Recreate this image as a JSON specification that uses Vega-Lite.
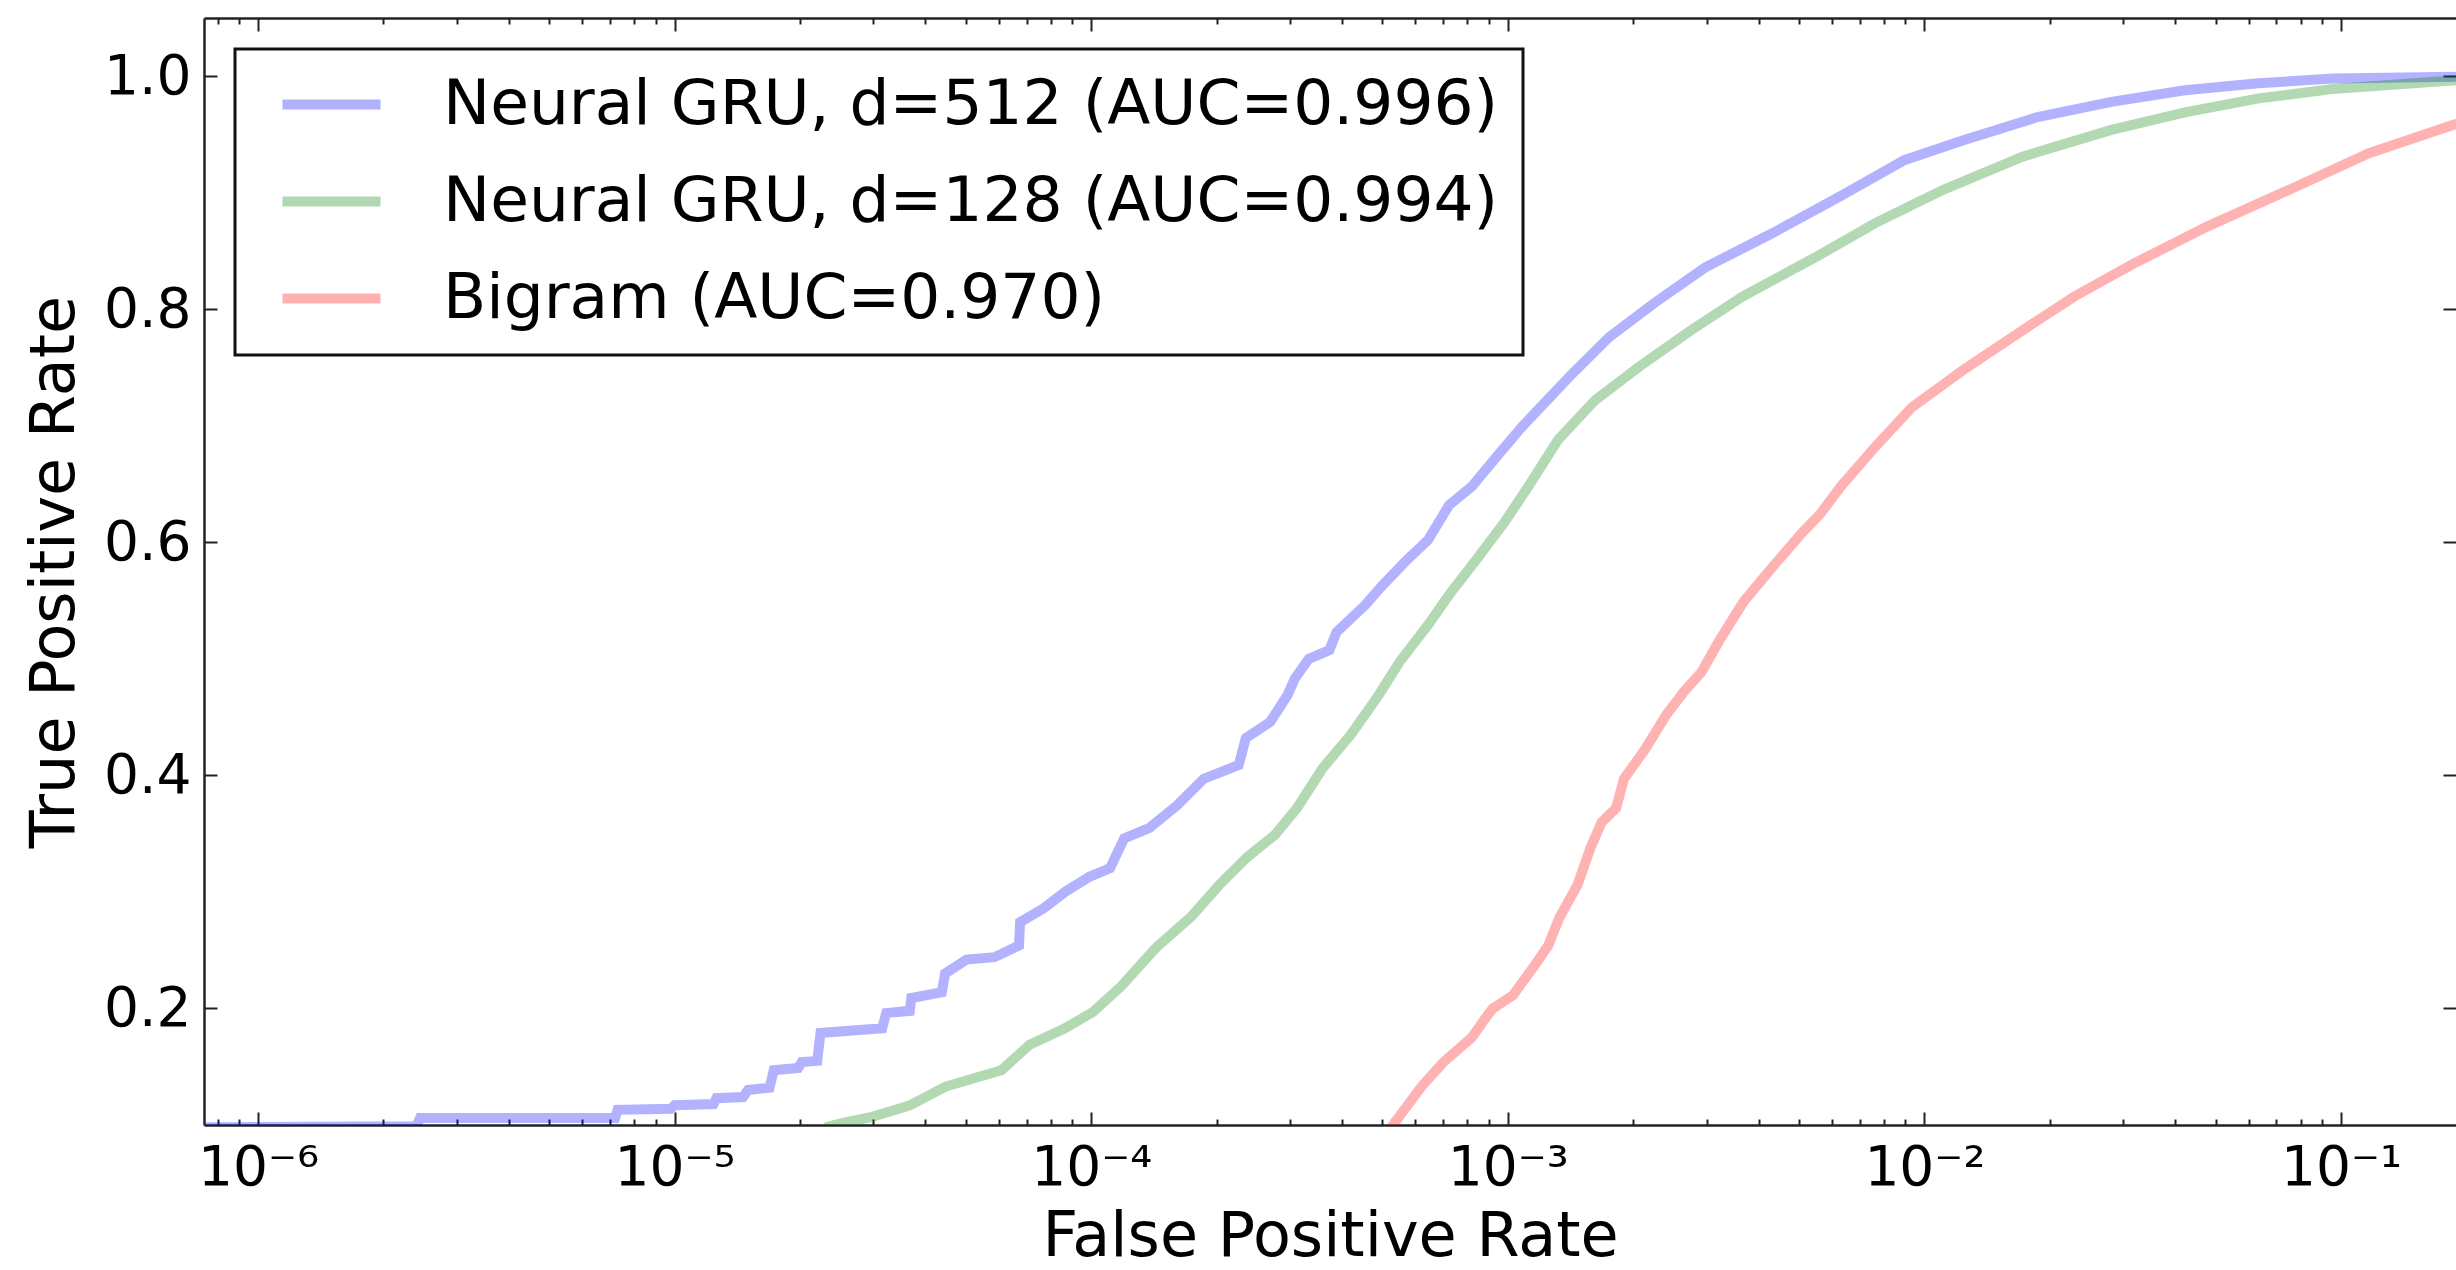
{
  "$schema": "https://vega.github.io/schema/vega-lite/v6.json",
  "autosize": "none",
  "padding": {"left": 204, "top": 18, "right": 0, "bottom": 145},
  "width": 2252,
  "height": 1107,
  "background": "white",
  "config": {
    "view": {"stroke": null},
    "font": "DejaVu Sans",
    "axis": {
      "grid": false,
      "labelFont": "DejaVu Sans",
      "labelFontSize": 55,
      "labelColor": "#000",
      "titleFont": "DejaVu Sans",
      "titleFontSize": 62,
      "titleFontWeight": "normal",
      "titleColor": "#000",
      "domainColor": "#222",
      "domainWidth": 2.5,
      "tickColor": "#222",
      "tickWidth": 2,
      "labelFlush": false,
      "labelOverlap": false,
      "labelBound": false
    },
    "legend": {
      "labelFont": "DejaVu Sans",
      "labelFontSize": 63,
      "labelColor": "#000",
      "labelLimit": 3000,
      "strokeColor": "#111",
      "strokeWidth": 3,
      "fillColor": "white"
    }
  },
  "datasets": {
    "roc": [
      {"model": "Neural GRU, d=512 (AUC=0.996)", "fpr": 7.5e-7, "tpr": 0.098},
      {"model": "Neural GRU, d=512 (AUC=0.996)", "fpr": 2.4e-6, "tpr": 0.099},
      {"model": "Neural GRU, d=512 (AUC=0.996)", "fpr": 2.45e-6, "tpr": 0.106},
      {"model": "Neural GRU, d=512 (AUC=0.996)", "fpr": 7.2e-6, "tpr": 0.106},
      {"model": "Neural GRU, d=512 (AUC=0.996)", "fpr": 7.3e-6, "tpr": 0.113},
      {"model": "Neural GRU, d=512 (AUC=0.996)", "fpr": 9.8e-6, "tpr": 0.114},
      {"model": "Neural GRU, d=512 (AUC=0.996)", "fpr": 1.0e-5, "tpr": 0.117},
      {"model": "Neural GRU, d=512 (AUC=0.996)", "fpr": 1.24e-5, "tpr": 0.118},
      {"model": "Neural GRU, d=512 (AUC=0.996)", "fpr": 1.26e-5, "tpr": 0.123},
      {"model": "Neural GRU, d=512 (AUC=0.996)", "fpr": 1.46e-5, "tpr": 0.124},
      {"model": "Neural GRU, d=512 (AUC=0.996)", "fpr": 1.5e-5, "tpr": 0.13},
      {"model": "Neural GRU, d=512 (AUC=0.996)", "fpr": 1.69e-5, "tpr": 0.132},
      {"model": "Neural GRU, d=512 (AUC=0.996)", "fpr": 1.73e-5, "tpr": 0.147},
      {"model": "Neural GRU, d=512 (AUC=0.996)", "fpr": 1.98e-5, "tpr": 0.149},
      {"model": "Neural GRU, d=512 (AUC=0.996)", "fpr": 2.02e-5, "tpr": 0.154},
      {"model": "Neural GRU, d=512 (AUC=0.996)", "fpr": 2.2e-5, "tpr": 0.155},
      {"model": "Neural GRU, d=512 (AUC=0.996)", "fpr": 2.24e-5, "tpr": 0.179},
      {"model": "Neural GRU, d=512 (AUC=0.996)", "fpr": 3.15e-5, "tpr": 0.183},
      {"model": "Neural GRU, d=512 (AUC=0.996)", "fpr": 3.22e-5, "tpr": 0.196},
      {"model": "Neural GRU, d=512 (AUC=0.996)", "fpr": 3.67e-5, "tpr": 0.198},
      {"model": "Neural GRU, d=512 (AUC=0.996)", "fpr": 3.7e-5, "tpr": 0.209},
      {"model": "Neural GRU, d=512 (AUC=0.996)", "fpr": 4.38e-5, "tpr": 0.214},
      {"model": "Neural GRU, d=512 (AUC=0.996)", "fpr": 4.46e-5, "tpr": 0.23},
      {"model": "Neural GRU, d=512 (AUC=0.996)", "fpr": 5.02e-5, "tpr": 0.242},
      {"model": "Neural GRU, d=512 (AUC=0.996)", "fpr": 5.86e-5, "tpr": 0.244},
      {"model": "Neural GRU, d=512 (AUC=0.996)", "fpr": 6.71e-5, "tpr": 0.254},
      {"model": "Neural GRU, d=512 (AUC=0.996)", "fpr": 6.75e-5, "tpr": 0.274},
      {"model": "Neural GRU, d=512 (AUC=0.996)", "fpr": 7.69e-5, "tpr": 0.286},
      {"model": "Neural GRU, d=512 (AUC=0.996)", "fpr": 8.65e-5, "tpr": 0.3},
      {"model": "Neural GRU, d=512 (AUC=0.996)", "fpr": 9.9e-5, "tpr": 0.313},
      {"model": "Neural GRU, d=512 (AUC=0.996)", "fpr": 1.11e-4, "tpr": 0.3205},
      {"model": "Neural GRU, d=512 (AUC=0.996)", "fpr": 1.2e-4, "tpr": 0.346},
      {"model": "Neural GRU, d=512 (AUC=0.996)", "fpr": 1.38e-4, "tpr": 0.355},
      {"model": "Neural GRU, d=512 (AUC=0.996)", "fpr": 1.61e-4, "tpr": 0.3745},
      {"model": "Neural GRU, d=512 (AUC=0.996)", "fpr": 1.86e-4, "tpr": 0.397},
      {"model": "Neural GRU, d=512 (AUC=0.996)", "fpr": 2.26e-4, "tpr": 0.409},
      {"model": "Neural GRU, d=512 (AUC=0.996)", "fpr": 2.35e-4, "tpr": 0.432},
      {"model": "Neural GRU, d=512 (AUC=0.996)", "fpr": 2.69e-4, "tpr": 0.446},
      {"model": "Neural GRU, d=512 (AUC=0.996)", "fpr": 2.96e-4, "tpr": 0.469},
      {"model": "Neural GRU, d=512 (AUC=0.996)", "fpr": 3.08e-4, "tpr": 0.483},
      {"model": "Neural GRU, d=512 (AUC=0.996)", "fpr": 3.33e-4, "tpr": 0.5},
      {"model": "Neural GRU, d=512 (AUC=0.996)", "fpr": 3.73e-4, "tpr": 0.5075},
      {"model": "Neural GRU, d=512 (AUC=0.996)", "fpr": 3.88e-4, "tpr": 0.523},
      {"model": "Neural GRU, d=512 (AUC=0.996)", "fpr": 4.54e-4, "tpr": 0.546},
      {"model": "Neural GRU, d=512 (AUC=0.996)", "fpr": 5.0e-4, "tpr": 0.563},
      {"model": "Neural GRU, d=512 (AUC=0.996)", "fpr": 5.73e-4, "tpr": 0.585},
      {"model": "Neural GRU, d=512 (AUC=0.996)", "fpr": 6.43e-4, "tpr": 0.602},
      {"model": "Neural GRU, d=512 (AUC=0.996)", "fpr": 7.23e-4, "tpr": 0.632},
      {"model": "Neural GRU, d=512 (AUC=0.996)", "fpr": 8.2e-4, "tpr": 0.648},
      {"model": "Neural GRU, d=512 (AUC=0.996)", "fpr": 9.53e-4, "tpr": 0.676},
      {"model": "Neural GRU, d=512 (AUC=0.996)", "fpr": 1.08e-3, "tpr": 0.699},
      {"model": "Neural GRU, d=512 (AUC=0.996)", "fpr": 1.22e-3, "tpr": 0.719},
      {"model": "Neural GRU, d=512 (AUC=0.996)", "fpr": 1.43e-3, "tpr": 0.745},
      {"model": "Neural GRU, d=512 (AUC=0.996)", "fpr": 1.75e-3, "tpr": 0.776},
      {"model": "Neural GRU, d=512 (AUC=0.996)", "fpr": 2.24e-3, "tpr": 0.805},
      {"model": "Neural GRU, d=512 (AUC=0.996)", "fpr": 2.98e-3, "tpr": 0.836},
      {"model": "Neural GRU, d=512 (AUC=0.996)", "fpr": 4.3e-3, "tpr": 0.865},
      {"model": "Neural GRU, d=512 (AUC=0.996)", "fpr": 6.21e-3, "tpr": 0.896},
      {"model": "Neural GRU, d=512 (AUC=0.996)", "fpr": 8.95e-3, "tpr": 0.928},
      {"model": "Neural GRU, d=512 (AUC=0.996)", "fpr": 1.24e-2, "tpr": 0.945},
      {"model": "Neural GRU, d=512 (AUC=0.996)", "fpr": 1.87e-2, "tpr": 0.965},
      {"model": "Neural GRU, d=512 (AUC=0.996)", "fpr": 2.81e-2, "tpr": 0.978},
      {"model": "Neural GRU, d=512 (AUC=0.996)", "fpr": 4.22e-2, "tpr": 0.988},
      {"model": "Neural GRU, d=512 (AUC=0.996)", "fpr": 6.34e-2, "tpr": 0.994},
      {"model": "Neural GRU, d=512 (AUC=0.996)", "fpr": 9.53e-2, "tpr": 0.998},
      {"model": "Neural GRU, d=512 (AUC=0.996)", "fpr": 0.19, "tpr": 0.9995},

      {"model": "Neural GRU, d=128 (AUC=0.994)", "fpr": 2.3e-5, "tpr": 0.098},
      {"model": "Neural GRU, d=128 (AUC=0.994)", "fpr": 2.55e-5, "tpr": 0.102},
      {"model": "Neural GRU, d=128 (AUC=0.994)", "fpr": 2.98e-5, "tpr": 0.107},
      {"model": "Neural GRU, d=128 (AUC=0.994)", "fpr": 3.68e-5, "tpr": 0.117},
      {"model": "Neural GRU, d=128 (AUC=0.994)", "fpr": 4.47e-5, "tpr": 0.133},
      {"model": "Neural GRU, d=128 (AUC=0.994)", "fpr": 6.09e-5, "tpr": 0.147},
      {"model": "Neural GRU, d=128 (AUC=0.994)", "fpr": 7.12e-5, "tpr": 0.169},
      {"model": "Neural GRU, d=128 (AUC=0.994)", "fpr": 8.65e-5, "tpr": 0.183},
      {"model": "Neural GRU, d=128 (AUC=0.994)", "fpr": 1.01e-4, "tpr": 0.197},
      {"model": "Neural GRU, d=128 (AUC=0.994)", "fpr": 1.18e-4, "tpr": 0.219},
      {"model": "Neural GRU, d=128 (AUC=0.994)", "fpr": 1.43e-4, "tpr": 0.252},
      {"model": "Neural GRU, d=128 (AUC=0.994)", "fpr": 1.74e-4, "tpr": 0.279},
      {"model": "Neural GRU, d=128 (AUC=0.994)", "fpr": 2.03e-4, "tpr": 0.306},
      {"model": "Neural GRU, d=128 (AUC=0.994)", "fpr": 2.37e-4, "tpr": 0.33},
      {"model": "Neural GRU, d=128 (AUC=0.994)", "fpr": 2.76e-4, "tpr": 0.349},
      {"model": "Neural GRU, d=128 (AUC=0.994)", "fpr": 3.12e-4, "tpr": 0.372},
      {"model": "Neural GRU, d=128 (AUC=0.994)", "fpr": 3.59e-4, "tpr": 0.406},
      {"model": "Neural GRU, d=128 (AUC=0.994)", "fpr": 4.2e-4, "tpr": 0.435},
      {"model": "Neural GRU, d=128 (AUC=0.994)", "fpr": 4.9e-4, "tpr": 0.469},
      {"model": "Neural GRU, d=128 (AUC=0.994)", "fpr": 5.5e-4, "tpr": 0.4975},
      {"model": "Neural GRU, d=128 (AUC=0.994)", "fpr": 6.43e-4, "tpr": 0.529},
      {"model": "Neural GRU, d=128 (AUC=0.994)", "fpr": 7.23e-4, "tpr": 0.555},
      {"model": "Neural GRU, d=128 (AUC=0.994)", "fpr": 8.44e-4, "tpr": 0.586},
      {"model": "Neural GRU, d=128 (AUC=0.994)", "fpr": 9.85e-4, "tpr": 0.618},
      {"model": "Neural GRU, d=128 (AUC=0.994)", "fpr": 1.12e-3, "tpr": 0.648},
      {"model": "Neural GRU, d=128 (AUC=0.994)", "fpr": 1.32e-3, "tpr": 0.688},
      {"model": "Neural GRU, d=128 (AUC=0.994)", "fpr": 1.62e-3, "tpr": 0.722},
      {"model": "Neural GRU, d=128 (AUC=0.994)", "fpr": 2.07e-3, "tpr": 0.751},
      {"model": "Neural GRU, d=128 (AUC=0.994)", "fpr": 2.75e-3, "tpr": 0.782},
      {"model": "Neural GRU, d=128 (AUC=0.994)", "fpr": 3.66e-3, "tpr": 0.811},
      {"model": "Neural GRU, d=128 (AUC=0.994)", "fpr": 5.5e-3, "tpr": 0.845},
      {"model": "Neural GRU, d=128 (AUC=0.994)", "fpr": 7.62e-3, "tpr": 0.874},
      {"model": "Neural GRU, d=128 (AUC=0.994)", "fpr": 1.1e-2, "tpr": 0.902},
      {"model": "Neural GRU, d=128 (AUC=0.994)", "fpr": 1.72e-2, "tpr": 0.931},
      {"model": "Neural GRU, d=128 (AUC=0.994)", "fpr": 2.81e-2, "tpr": 0.954},
      {"model": "Neural GRU, d=128 (AUC=0.994)", "fpr": 4.22e-2, "tpr": 0.969},
      {"model": "Neural GRU, d=128 (AUC=0.994)", "fpr": 6.34e-2, "tpr": 0.981},
      {"model": "Neural GRU, d=128 (AUC=0.994)", "fpr": 9.53e-2, "tpr": 0.989},
      {"model": "Neural GRU, d=128 (AUC=0.994)", "fpr": 0.19, "tpr": 0.9966},

      {"model": "Bigram (AUC=0.970)", "fpr": 5.0e-4, "tpr": 0.085},
      {"model": "Bigram (AUC=0.970)", "fpr": 5.35e-4, "tpr": 0.102},
      {"model": "Bigram (AUC=0.970)", "fpr": 6.24e-4, "tpr": 0.134},
      {"model": "Bigram (AUC=0.970)", "fpr": 7.01e-4, "tpr": 0.154},
      {"model": "Bigram (AUC=0.970)", "fpr": 8.19e-4, "tpr": 0.175},
      {"model": "Bigram (AUC=0.970)", "fpr": 8.85e-4, "tpr": 0.192},
      {"model": "Bigram (AUC=0.970)", "fpr": 9.2e-4, "tpr": 0.2},
      {"model": "Bigram (AUC=0.970)", "fpr": 1.03e-3, "tpr": 0.2115},
      {"model": "Bigram (AUC=0.970)", "fpr": 1.16e-3, "tpr": 0.237},
      {"model": "Bigram (AUC=0.970)", "fpr": 1.25e-3, "tpr": 0.254},
      {"model": "Bigram (AUC=0.970)", "fpr": 1.33e-3, "tpr": 0.278},
      {"model": "Bigram (AUC=0.970)", "fpr": 1.47e-3, "tpr": 0.306},
      {"model": "Bigram (AUC=0.970)", "fpr": 1.58e-3, "tpr": 0.338},
      {"model": "Bigram (AUC=0.970)", "fpr": 1.68e-3, "tpr": 0.36},
      {"model": "Bigram (AUC=0.970)", "fpr": 1.82e-3, "tpr": 0.372},
      {"model": "Bigram (AUC=0.970)", "fpr": 1.9e-3, "tpr": 0.397},
      {"model": "Bigram (AUC=0.970)", "fpr": 2.14e-3, "tpr": 0.423},
      {"model": "Bigram (AUC=0.970)", "fpr": 2.4e-3, "tpr": 0.452},
      {"model": "Bigram (AUC=0.970)", "fpr": 2.65e-3, "tpr": 0.472},
      {"model": "Bigram (AUC=0.970)", "fpr": 2.92e-3, "tpr": 0.489},
      {"model": "Bigram (AUC=0.970)", "fpr": 3.21e-3, "tpr": 0.515},
      {"model": "Bigram (AUC=0.970)", "fpr": 3.68e-3, "tpr": 0.549},
      {"model": "Bigram (AUC=0.970)", "fpr": 4.3e-3, "tpr": 0.578},
      {"model": "Bigram (AUC=0.970)", "fpr": 5.02e-3, "tpr": 0.606},
      {"model": "Bigram (AUC=0.970)", "fpr": 5.64e-3, "tpr": 0.625},
      {"model": "Bigram (AUC=0.970)", "fpr": 6.3e-3, "tpr": 0.648},
      {"model": "Bigram (AUC=0.970)", "fpr": 7.62e-3, "tpr": 0.682},
      {"model": "Bigram (AUC=0.970)", "fpr": 9.34e-3, "tpr": 0.716},
      {"model": "Bigram (AUC=0.970)", "fpr": 1.24e-2, "tpr": 0.748},
      {"model": "Bigram (AUC=0.970)", "fpr": 1.72e-2, "tpr": 0.782},
      {"model": "Bigram (AUC=0.970)", "fpr": 2.29e-2, "tpr": 0.811},
      {"model": "Bigram (AUC=0.970)", "fpr": 3.17e-2, "tpr": 0.839},
      {"model": "Bigram (AUC=0.970)", "fpr": 4.77e-2, "tpr": 0.871},
      {"model": "Bigram (AUC=0.970)", "fpr": 7.77e-2, "tpr": 0.905},
      {"model": "Bigram (AUC=0.970)", "fpr": 0.1167, "tpr": 0.934},
      {"model": "Bigram (AUC=0.970)", "fpr": 0.19, "tpr": 0.9594}
    ]
  },
  "data": {"name": "roc"},
  "resolve": {"axis": {"x": "independent", "y": "independent"}},
  "layer": [
    {
      "mark": {"type": "line", "strokeWidth": 10, "strokeOpacity": 0.3, "clip": true},
      "encoding": {
        "x": {
          "field": "fpr", "type": "quantitative",
          "scale": {"type": "log", "domain": [7.42e-7, 0.1888], "nice": false},
          "axis": {
            "orient": "bottom",
            "values": [1e-6, 1e-5, 1e-4, 1e-3, 1e-2, 1e-1],
            "labelExpr": "datum.value < 5e-6 ? '10⁻⁶' : datum.value < 5e-5 ? '10⁻⁵' : datum.value < 5e-4 ? '10⁻⁴' : datum.value < 5e-3 ? '10⁻³' : datum.value < 5e-2 ? '10⁻²' : '10⁻¹'",
            "ticks": false,
            "domain": true,
            "labelPadding": 16,
            "labelBaseline": "top",
            "title": "False Positive Rate",
            "titlePadding": 11
          }
        },
        "y": {
          "field": "tpr", "type": "quantitative",
          "scale": {"domain": [0.1, 1.05], "nice": false, "zero": false},
          "axis": {
            "orient": "left",
            "values": [0.2, 0.4, 0.6, 0.8, 1.0],
            "format": ".1f",
            "ticks": false,
            "domain": true,
            "labelPadding": 13,
            "title": "True Positive Rate",
            "titlePadding": 17
          }
        },
        "color": {
          "field": "model", "type": "nominal",
          "scale": {
            "domain": ["Neural GRU, d=512 (AUC=0.996)", "Neural GRU, d=128 (AUC=0.994)", "Bigram (AUC=0.970)"],
            "range": ["#0000ff", "#008000", "#ff0000"]
          },
          "legend": {
            "title": null,
            "orient": "none",
            "legendX": 31,
            "legendY": 31,
            "symbolType": "M-2,0H2",
            "symbolSize": 2401,
            "symbolStrokeWidth": 10,
            "symbolOpacity": 0.3,
            "symbolFillColor": "transparent",
            "symbolOffset": 41,
            "labelOffset": 80,
            "rowPadding": 33,
            "padding": 24
          }
        }
      }
    },
    {
      "mark": {"type": "point", "opacity": 0, "size": 0},
      "encoding": {
        "x": {
          "field": "fpr", "type": "quantitative",
          "axis": {"orient": "bottom", "values": [1e-6, 1e-5, 1e-4, 1e-3, 1e-2, 1e-1], "labels": false, "domain": false, "tickSize": -13, "title": null}
        },
        "y": {
          "field": "tpr", "type": "quantitative",
          "axis": {"orient": "right", "values": [0.2, 0.4, 0.6, 0.8, 1.0], "labels": false, "domain": false, "tickSize": -13, "title": null}
        }
      }
    },
    {
      "mark": {"type": "point", "opacity": 0, "size": 0},
      "encoding": {
        "x": {
          "field": "fpr", "type": "quantitative",
          "axis": {"orient": "bottom", "values": [8e-7, 9e-7, 2e-6, 3e-6, 4e-6, 5e-6, 6e-6, 7e-6, 8e-6, 9e-6, 2e-5, 3e-5, 4e-5, 5e-5, 6e-5, 7e-5, 8e-5, 9e-5, 2e-4, 3e-4, 4e-4, 5e-4, 6e-4, 7e-4, 8e-4, 9e-4, 2e-3, 3e-3, 4e-3, 5e-3, 6e-3, 7e-3, 8e-3, 9e-3, 2e-2, 3e-2, 4e-2, 5e-2, 6e-2, 7e-2, 8e-2, 9e-2], "labels": false, "domain": false, "tickSize": -6, "title": null}
        },
        "y": {
          "field": "tpr", "type": "quantitative",
          "axis": {"orient": "left", "values": [0.2, 0.4, 0.6, 0.8, 1.0], "labels": false, "domain": false, "tickSize": -13, "title": null}
        }
      }
    },
    {
      "mark": {"type": "point", "opacity": 0, "size": 0},
      "encoding": {
        "x": {
          "field": "fpr", "type": "quantitative",
          "axis": {"orient": "top", "values": [1e-6, 1e-5, 1e-4, 1e-3, 1e-2, 1e-1], "labels": false, "domain": true, "tickSize": -13, "title": null}
        },
        "y": {"field": "tpr", "type": "quantitative", "axis": null}
      }
    },
    {
      "mark": {"type": "point", "opacity": 0, "size": 0},
      "encoding": {
        "x": {
          "field": "fpr", "type": "quantitative",
          "axis": {"orient": "top", "values": [8e-7, 9e-7, 2e-6, 3e-6, 4e-6, 5e-6, 6e-6, 7e-6, 8e-6, 9e-6, 2e-5, 3e-5, 4e-5, 5e-5, 6e-5, 7e-5, 8e-5, 9e-5, 2e-4, 3e-4, 4e-4, 5e-4, 6e-4, 7e-4, 8e-4, 9e-4, 2e-3, 3e-3, 4e-3, 5e-3, 6e-3, 7e-3, 8e-3, 9e-3, 2e-2, 3e-2, 4e-2, 5e-2, 6e-2, 7e-2, 8e-2, 9e-2], "labels": false, "domain": false, "tickSize": -6, "title": null}
        },
        "y": {"field": "tpr", "type": "quantitative", "axis": null}
      }
    }
  ]
}
